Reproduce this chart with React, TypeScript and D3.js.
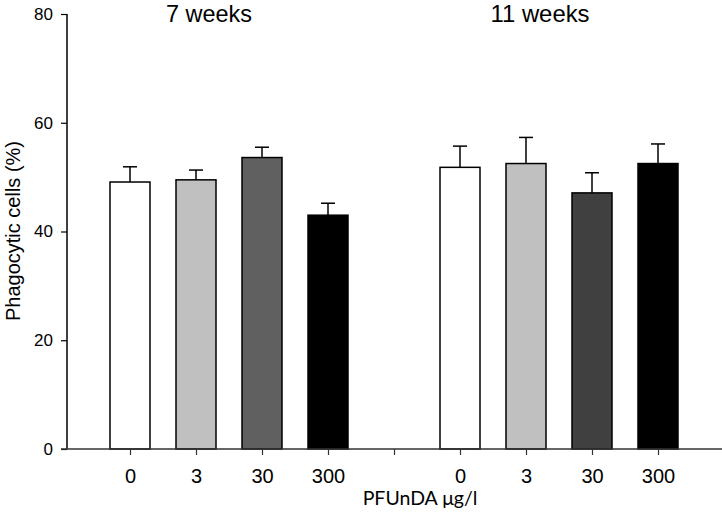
import { useEffect, useRef } from 'react';
import * as d3 from 'd3';

const groups = ['7 weeks', '11 weeks'];
const doses = ['0', '3', '30', '300'];
const means7 = [49.1, 49.5, 53.6, 43.0];
const errTop7 = [51.9, 51.3, 55.5, 45.2];
const means11 = [51.8, 52.5, 47.1, 52.5];
const errTop11 = [55.7, 57.3, 50.8, 56.1];
const fills7 = ['#ffffff', '#c0c0c0', '#606060', '#000000'];
const fills11 = ['#ffffff', '#c0c0c0', '#404040', '#000000'];
const yTicks = [0, 20, 40, 60, 80];

interface BarDatum {
  slot: number;
  mean: number;
  top: number;
  fill: string;
}

export default function App() {
  const svgRef = useRef<SVGSVGElement>(null);
  const width = 722;
  const height = 515;

  useEffect(() => {
    if (!svgRef.current) return;
    const svg = d3.select(svgRef.current);
    svg.selectAll('*').remove();

    // slots 0-3: 7 weeks, slot 4: empty gap tick, slots 5-8: 11 weeks
    const bars: BarDatum[] = [
      ...means7.map((m, i) => ({ slot: i, mean: m, top: errTop7[i], fill: fills7[i] })),
      ...means11.map((m, i) => ({ slot: i + 5, mean: m, top: errTop11[i], fill: fills11[i] })),
    ];
    const slotLabels = [...doses, '', ...doses];

    const x = d3.scaleLinear().domain([0, 8]).range([130, 658]);
    const y = d3.scaleLinear().domain([0, 80]).range([449, 14]);
    const barW = 40;
    const capW = 14;
    const axisX = 67;
    const arial = '"Liberation Sans", Arial, sans-serif';

    const g = svg.append('g');

    // bars
    g.selectAll('.bar')
      .data(bars)
      .enter().append('rect')
      .attr('class', 'bar')
      .attr('x', d => x(d.slot) - barW / 2)
      .attr('y', d => y(d.mean))
      .attr('width', barW)
      .attr('height', d => y(0) - y(d.mean))
      .attr('fill', d => d.fill)
      .attr('stroke', '#000')
      .attr('stroke-width', 1.5);

    // error bars (upper only)
    g.selectAll('.err')
      .data(bars)
      .enter().append('line')
      .attr('x1', d => x(d.slot))
      .attr('x2', d => x(d.slot))
      .attr('y1', d => y(d.mean))
      .attr('y2', d => y(d.top))
      .attr('stroke', '#000')
      .attr('stroke-width', 1.5);

    g.selectAll('.cap')
      .data(bars)
      .enter().append('line')
      .attr('x1', d => x(d.slot) - capW / 2)
      .attr('x2', d => x(d.slot) + capW / 2)
      .attr('y1', d => y(d.top))
      .attr('y2', d => y(d.top))
      .attr('stroke', '#000')
      .attr('stroke-width', 1.5);

    // y axis
    const yAxis = d3.axisLeft(y).tickValues(yTicks).tickSize(6).tickPadding(8);
    const yg = g.append('g')
      .attr('transform', `translate(${axisX},0)`)
      .call(yAxis);
    yg.attr('font-size', null).attr('font-family', null);
    yg.select('.domain').attr('d', `M0,${y(80)}V${y(0)}`).attr('stroke', '#000').attr('stroke-width', 1.5);
    yg.selectAll('.tick line').attr('stroke', '#000').attr('stroke-width', 1.2);
    yg.selectAll('.tick text')
      .attr('fill', '#000')
      .style('font-family', arial)
      .style('font-size', '17px');

    // x axis
    const xAxis = d3.axisBottom(x)
      .tickValues(d3.range(9))
      .tickFormat((_, i) => slotLabels[i])
      .tickSize(6)
      .tickPadding(14);
    const xg = g.append('g')
      .attr('transform', `translate(0,${y(0)})`)
      .call(xAxis);
    xg.attr('font-size', null).attr('font-family', null);
    xg.select('.domain').attr('d', `M61,0H${width}`).attr('stroke', '#333').attr('stroke-width', 1.5);
    xg.selectAll('.tick line').attr('stroke', '#333').attr('stroke-width', 1.2);
    xg.selectAll('.tick text')
      .attr('fill', '#000')
      .style('font-family', arial)
      .style('font-size', '20px');

    // group titles
    const titleX = [209, 540];
    const titleLen = [86, 99];
    g.selectAll('.title')
      .data(groups)
      .enter().append('text')
      .attr('x', (_, i) => titleX[i])
      .attr('y', 22)
      .attr('text-anchor', 'middle')
      .attr('textLength', (_, i) => titleLen[i])
      .attr('lengthAdjust', 'spacingAndGlyphs')
      .attr('fill', '#000')
      .style('font-family', arial)
      .style('font-size', '24px')
      .text(d => d);

    // axis titles
    g.append('text')
      .attr('transform', 'rotate(-90)')
      .attr('x', -231)
      .attr('y', 20)
      .attr('text-anchor', 'middle')
      .attr('fill', '#000')
      .style('font-family', arial)
      .style('font-size', '20px')
      .text('Phagocytic cells (%)');

    g.append('text')
      .attr('x', 420)
      .attr('y', 505)
      .attr('text-anchor', 'middle')
      .attr('fill', '#000')
      .style('font-family', 'Lato, "Open Sans", sans-serif')
      .style('font-size', '19.5px')
      .text('PFUnDA μg/l');
  }, []);

  return (
    <svg
      ref={svgRef}
      width={width}
      height={height}
      style={{ position: 'absolute', left: 0, top: 0, background: '#fff' }}
    />
  );
}
